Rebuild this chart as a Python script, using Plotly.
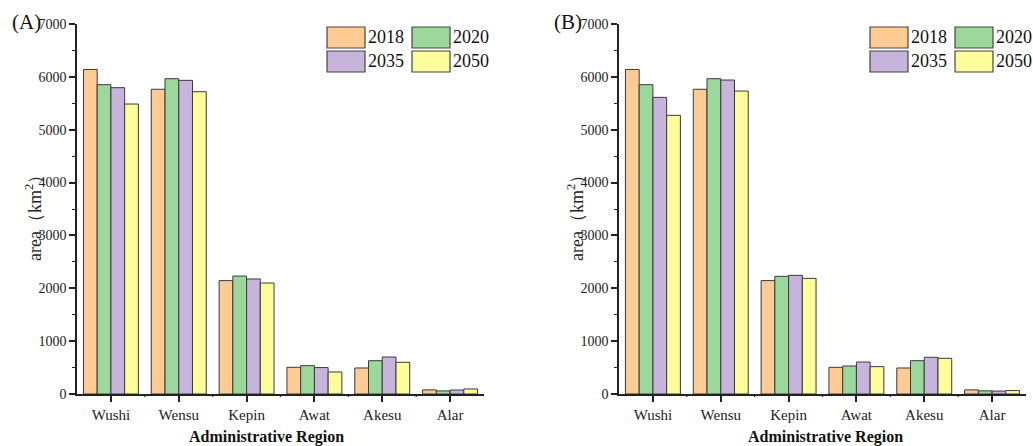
import plotly.graph_objects as go

regions = ["Wushi", "Wensu", "Kepin", "Awat", "Akesu", "Alar"]
years = ["2018", "2020", "2035", "2050"]
colors = ["#FECB95", "#9CD89C", "#C7B4DA", "#FEFD9B"]

# Panel (A)
a_2018 = [6140, 5765, 2145, 505, 492, 78]
a_2020 = [5852, 5965, 2232, 536, 630, 58]
a_2035 = [5795, 5934, 2176, 500, 700, 75]
a_2050 = [5486, 5719, 2100, 416, 600, 95]

# Panel (B)
b_2018 = [6140, 5765, 2145, 505, 492, 78]
b_2020 = [5852, 5965, 2226, 530, 630, 60]
b_2035 = [5612, 5940, 2245, 605, 695, 55]
b_2050 = [5272, 5732, 2188, 517, 675, 65]

y_ticks = [0, 1000, 2000, 3000, 4000, 5000, 6000, 7000]

W, H = 1033, 446
MT = 24
PH = 370
MB = H - MT - PH

def px_x(p):
    return p / W

def px_y(p):
    return (394 - p) / PH

fig = go.Figure()
serif = "Liberation Serif, Times New Roman, serif"

for panel, series, xa, ya in [
    ("A", [a_2018, a_2020, a_2035, a_2050], "x", "y"),
    ("B", [b_2018, b_2020, b_2035, b_2050], "x2", "y2"),
]:
    for yr, vals, col in zip(years, series, colors):
        fig.add_trace(go.Bar(
            x=regions, y=vals, name=yr, xaxis=xa, yaxis=ya,
            marker=dict(color=col, line=dict(color="#3a3a3a", width=1)),
            showlegend=False,
        ))

axis_common_x = dict(
    type="category", showline=True, linecolor="#222", linewidth=1.5,
    ticks="outside", ticklen=6, tickwidth=1.5, tickcolor="#222",
    showgrid=False, zeroline=False,
    tickfont=dict(family=serif, size=15, color="#222"),
    range=[-0.5, 5.5],
)
axis_common_y = dict(
    showline=True, linecolor="#222", linewidth=1.5,
    ticks="outside", ticklen=6, tickwidth=1.5, tickcolor="#222",
    showgrid=False, zeroline=False, range=[0, 7000],
    tickvals=y_ticks,
    tickfont=dict(family=serif, size=14, color="#222"),
    minor=dict(ticks="outside", ticklen=3, tickwidth=1.2, tickcolor="#222", dtick=500, tick0=0, showgrid=False),
)

xA = [77, 484]
xB = [619, 1026]
fig.update_layout(
    width=W, height=H,
    margin=dict(l=0, r=0, t=MT, b=MB),
    plot_bgcolor="white", paper_bgcolor="white",
    bargap=0.19, bargroupgap=0, barmode="group",
    xaxis=dict(domain=[px_x(xA[0]), px_x(xA[1])], anchor="y", **axis_common_x),
    yaxis=dict(domain=[0, 1], anchor="x", **axis_common_y),
    xaxis2=dict(domain=[px_x(xB[0]), px_x(xB[1])], anchor="y2", **axis_common_x),
    yaxis2=dict(domain=[0, 1], anchor="x2", **axis_common_y),
)

shapes = []
annotations = []

# minor ticks between categories on x axes
for xref in ["x", "x2"]:
    for i in range(len(regions) - 1):
        shapes.append(dict(type="line", xref=xref, yref="paper",
                           x0=i + 0.5, x1=i + 0.5, y0=0, y1=-3 / PH,
                           line=dict(color="#222", width=1.2)))

# panel labels, axis titles, legends
for lab, x0, ytx, xtx in [("(A)", 10, 33, 266), ("(B)", 552, 575, 825)]:
    annotations.append(dict(text=lab, xref="paper", yref="paper",
                            x=px_x(x0), y=px_y(22), xanchor="left", yanchor="middle",
                            showarrow=False, font=dict(family=serif, size=21, color="#111")))
    annotations.append(dict(text="area（km<sup>2</sup>）", xref="paper", yref="paper",
                            x=px_x(ytx), y=px_y(214), xanchor="center", yanchor="middle",
                            textangle=-90, showarrow=False,
                            font=dict(family=serif, size=18, color="#222")))
    annotations.append(dict(text="<b>Administrative Region</b>", xref="paper", yref="paper",
                            x=px_x(xtx), y=px_y(437), xanchor="center", yanchor="middle",
                            showarrow=False, font=dict(family=serif, size=16, color="#111")))

legend_cols = {"A": [327, 412], "B": [870, 955]}
rows = [27, 51]
bw, bh = 38, 21
for panel, cols in legend_cols.items():
    for k, (yr, col) in enumerate(zip(years, colors)):
        cx = cols[k % 2]
        ry = rows[k // 2]
        shapes.append(dict(type="rect", xref="paper", yref="paper",
                           x0=px_x(cx), x1=px_x(cx + bw), y0=px_y(ry + bh), y1=px_y(ry),
                           fillcolor=col, line=dict(color="#444", width=1.2)))
        annotations.append(dict(text=yr, xref="paper", yref="paper",
                                x=px_x(cx + bw + 1), y=px_y(ry + bh / 2), xanchor="left", yanchor="middle",
                                showarrow=False, font=dict(family=serif, size=18, color="#111")))

fig.update_layout(shapes=shapes, annotations=annotations)
fig.write_html(
    "out.html",
    config={"displayModeBar": False},
    post_script="document.body.style.margin='0';document.body.style.overflow='hidden';",
)
